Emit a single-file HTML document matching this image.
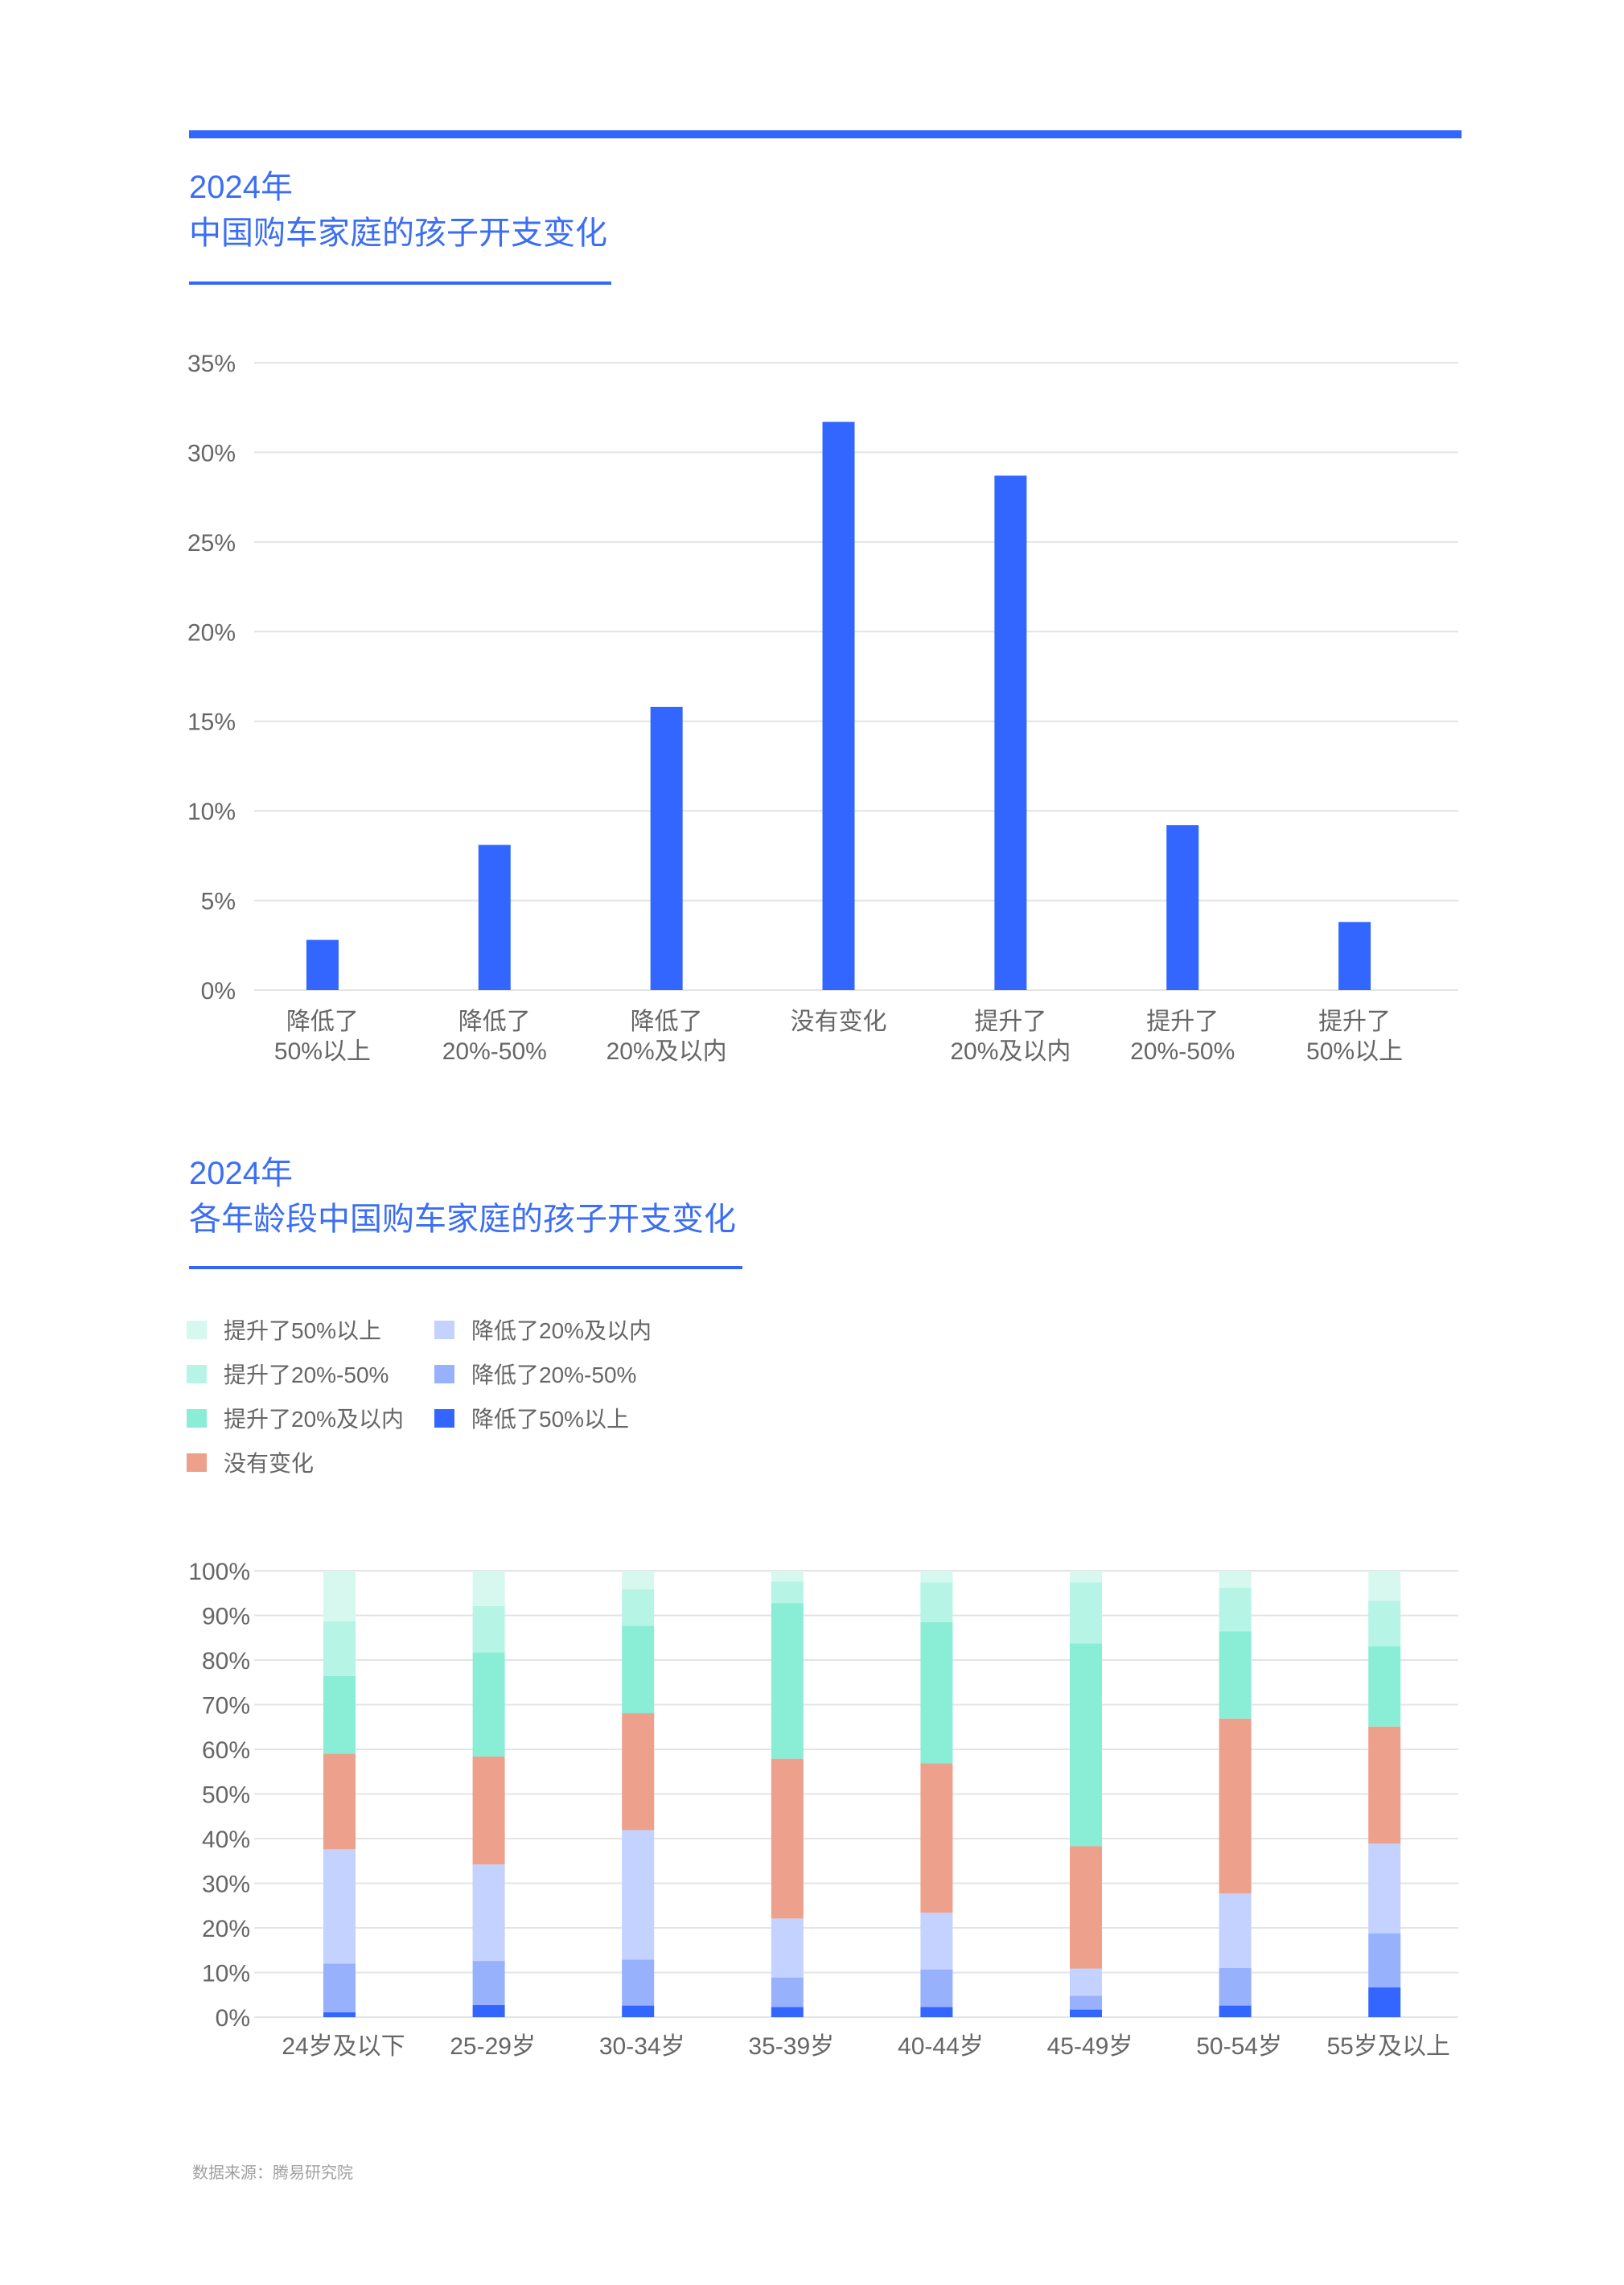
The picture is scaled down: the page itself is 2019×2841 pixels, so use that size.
<!DOCTYPE html>
<html><head><meta charset="utf-8"><style>
html,body{margin:0;padding:0;background:#fff;}
svg text{font-family:"Liberation Sans","Noto Sans CJK SC",sans-serif;}
</style></head><body>
<svg id="page" width="2019" height="2836" viewBox="0 0 2019 2836" xmlns="http://www.w3.org/2000/svg">
<rect x="235" y="162" width="1582" height="10" fill="#3366ff"/>
<text x="235" y="246" font-size="40" fill="#3b6ef5">2024年</text>
<text x="235" y="303" font-size="40" fill="#3b6ef5">中国购车家庭的孩子开支变化</text>
<rect x="235" y="350" width="525" height="4" fill="#3366ff"/>
<g id="c1"></g>
<text x="235" y="1472" font-size="40" fill="#3b6ef5">2024年</text>
<text x="235" y="1529" font-size="40" fill="#3b6ef5">各年龄段中国购车家庭的孩子开支变化</text>
<rect x="235" y="1574" width="688" height="4" fill="#3366ff"/>
<g id="legend"></g>
<g id="c2"></g>
<text x="239" y="2708" font-size="20" fill="#a0a0a0">数据来源：腾易研究院</text>
</svg>
<script>
// Chart 1 data
const c1Categories = [["降低了","50%以上"],["降低了","20%-50%"],["降低了","20%及以内"],["没有变化",""],["提升了","20%及以内"],["提升了","20%-50%"],["提升了","50%以上"]];
const c1Values = [2.8, 8.1, 15.8, 31.7, 28.7, 9.2, 3.8];
const c1Ticks = [0, 5, 10, 15, 20, 25, 30, 35];

// Chart 2 data
const c2Categories = ["24岁及以下","25-29岁","30-34岁","35-39岁","40-44岁","45-49岁","50-54岁","55岁及以上"];
const c2Series = ["降低了50%以上","降低了20%-50%","降低了20%及以内","没有变化","提升了20%及以内","提升了20%-50%","提升了50%以上"];
const sDown50 = [1.1, 2.7, 2.6, 2.3, 2.3, 1.7, 2.6, 6.7];
const sDown20to50 = [10.9, 9.9, 10.3, 6.6, 8.4, 3.1, 8.4, 12.1];
const sDownUnder20 = [25.6, 21.6, 29.0, 13.2, 12.7, 6.1, 16.7, 20.1];
const sNone = [21.4, 24.2, 26.2, 35.8, 33.5, 27.4, 39.2, 26.2];
const sUpUnder20 = [17.4, 23.3, 19.6, 34.8, 31.6, 45.4, 19.5, 18.0];
const sUp20to50 = [12.3, 10.4, 8.2, 4.9, 8.9, 13.7, 9.8, 10.2];
const sUp50 = [11.3, 7.9, 4.1, 2.4, 2.6, 2.6, 3.8, 6.7];
const c2Ticks = [0,10,20,30,40,50,60,70,80,90,100];

const NS="http://www.w3.org/2000/svg";
function mk(tag, attrs, parent){const e=document.createElementNS(NS,tag);for(const k in attrs)e.setAttribute(k,attrs[k]);parent.appendChild(e);return e;}

// Chart 1
(function(){
  const g=document.getElementById('c1');
  const x0=316,x1=1813,yTop=451,yBot=1231,max=35;
  const y=v=>yBot-(v/max)*(yBot-yTop);
  const bw=(x1-x0)/c1Values.length;
  const xc=i=>x0+bw*(i+0.5)-22;
  c1Ticks.forEach(t=>{
    const l=mk('line',{x1:x0,x2:x1,y1:y(t),y2:y(t),stroke:'#e4e4e4','stroke-width':2},g);
    
    
    const tx=mk('text',{x:293,y:y(t)+11,'font-size':30,fill:'#666','text-anchor':'end'},g);
    tx.textContent=t+'%';
    
    
  });
  c1Values.forEach((v,i)=>{
    const r=mk('rect',{x:xc(i)-20,y:y(v),width:40,height:yBot-y(v),fill:'#3366ff'},g);
    
    
    c1Categories[i].forEach((s,j)=>{
      if(!s)return;
      const t=mk('text',{x:xc(i),y:1280+j*37,'font-size':30,fill:'#666','text-anchor':'middle'},g);
      t.textContent=s;
      
      
    });
  });
})();

// Legend + chart 2
const c2Colors=['#3366ff','#98b1fd','#c3d2fe','#eda08c','#8aedd6','#b6f4e5','#d7f8ef'];
(function(){
  const lg=document.getElementById('legend');
  const order=[[6,235,1654],[5,235,1709],[4,235,1764],[3,235,1819],[2,543,1654],[1,543,1709],[0,543,1764]];
  order.forEach(([si,x,yc])=>{
    const r=mk('rect',{x:x-3,y:yc-12,width:25,height:23,fill:c2Colors[si]},lg);
    
    
    const t=mk('text',{x:x+43,y:yc+10,'font-size':28,fill:'#666'},lg);
    t.textContent=c2Series[si];
    
    
  });
  const g=document.getElementById('c2');
  const series=[sDown50,sDown20to50,sDownUnder20,sNone,sUpUnder20,sUp20to50,sUp50];
  const x0=316,x1=1813,yTop=1953,yBot=2508;
  const y=v=>yBot-(v/100)*(yBot-yTop);
  const centers=i=>422+i*185.6;
  c2Ticks.forEach(t=>{
    const l=mk('line',{x1:x0,x2:x1,y1:y(t),y2:y(t),stroke:'#e4e4e4','stroke-width':2},g);
    
    
    const tx=mk('text',{x:311,y:y(t)+11,'font-size':30,fill:'#666','text-anchor':'end'},g);
    tx.textContent=t+'%';
    
    
  });
  c2Categories.forEach((c,i)=>{
    let acc=0;
    series.forEach((s,si)=>{
      const v=s[i];
      const r=mk('rect',{x:centers(i)-20,y:y(acc+v),width:40,height:y(acc)-y(acc+v),fill:c2Colors[si]},g);
      
      
      acc+=v;
    });
    const t=mk('text',{x:centers(i)+5,y:2554,'font-size':30,fill:'#666','text-anchor':'middle'},g);
    t.textContent=c;
    
    
  });
})();
</script>
</body></html>
